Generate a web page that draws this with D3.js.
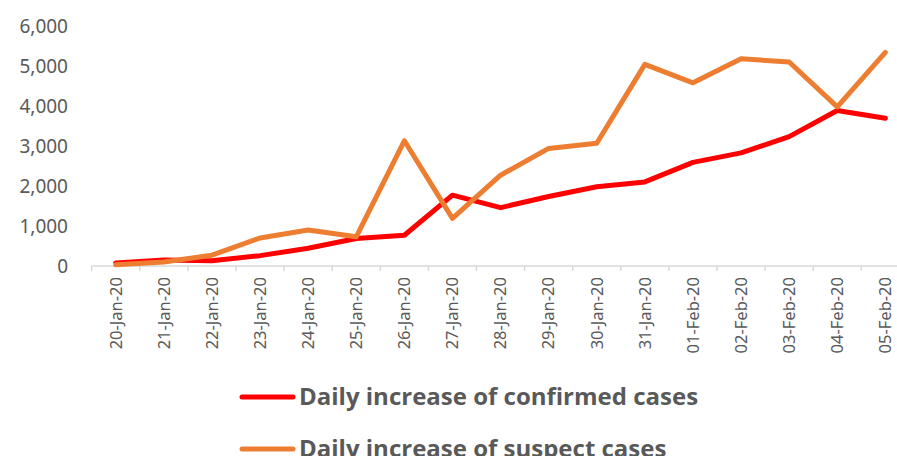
<!DOCTYPE html>
<html>
<head>
<meta charset="utf-8">
<script src="https://cdn.jsdelivr.net/npm/d3@7"></script>
<style>
  html, body { margin: 0; padding: 0; background: #fff; }
  svg { display: block; }
</style>
</head>
<body>
<svg id="chart" width="897" height="456"></svg>
<script>
const dates = ['20-Jan-20', '21-Jan-20', '22-Jan-20', '23-Jan-20', '24-Jan-20', '25-Jan-20',
  '26-Jan-20', '27-Jan-20', '28-Jan-20', '29-Jan-20', '30-Jan-20', '31-Jan-20',
  '01-Feb-20', '02-Feb-20', '03-Feb-20', '04-Feb-20', '05-Feb-20']
const confirmed = [77, 149, 131, 259, 444, 688, 769, 1771, 1459, 1737, 1982, 2102, 2590, 2829, 3235, 3887, 3694]
const suspect = [30, 100, 270, 700, 900, 730, 3130, 1190, 2270, 2940, 3070, 5040, 4580, 5180, 5100, 3980, 5340]
const yTicks = [0, 1000, 2000, 3000, 4000, 5000, 6000]
const seriesNames = ['Daily increase of confirmed cases', 'Daily increase of suspect cases']
const seriesColors = ['#ff0000', '#ed7d31']

const svg = d3.select('#chart')
const textColor = '#595959'

const x = d3.scaleBand()
  .domain(dates)
  .range([91.7, 91.7 + 17 * 48.1])

const y = d3.scaleLinear()
  .domain([0, 6000])
  .range([266, 26])

// y labels (no axis line)
const yAxis = svg.append('g')
  .attr('transform', 'translate(68,0)')
  .call(d3.axisLeft(y).tickValues(yTicks).tickSize(0).tickPadding(0).tickFormat(d3.format(',')))
yAxis.select('.domain').remove()
yAxis.selectAll('text')
  .attr('fill', textColor)
  .style('font-family', 'Noto Sans, sans-serif')
  .style('font-size', '19px')

// x axis
const xAxis = svg.append('g')
  .attr('transform', 'translate(0,266)')
  .call(d3.axisBottom(x).tickSizeOuter(0).tickSize(0))
xAxis.select('.domain').attr('stroke', '#d9d9d9').attr('stroke-width', 1.5)
  .attr('d', 'M' + x.range()[0] + ',0H' + x.range()[1])
xAxis.selectAll('.tick line').remove()
xAxis.selectAll('.tick text')
  .attr('fill', textColor)
  .style('font-family', 'Noto Sans, sans-serif')
  .style('font-size', '16.5px')
  .attr('transform', 'rotate(-90)')
  .attr('x', -11)
  .attr('y', 0)
  .attr('dy', '0.35em')
  .attr('text-anchor', 'end')

// boundary ticks between categories
xAxis.append('g').selectAll('line')
  .data(dates.concat(['end']))
  .join('line')
  .attr('x1', (d, i) => x.range()[0] + i * x.step())
  .attr('x2', (d, i) => x.range()[0] + i * x.step())
  .attr('y1', 0)
  .attr('y2', 5)
  .attr('stroke', '#d9d9d9')
  .attr('stroke-width', 1.5)

const line = d3.line()
  .x((d, i) => x(dates[i]) + x.bandwidth() / 2)
  .y(d => y(d))

const series = [confirmed, suspect]

svg.append('g').selectAll('path')
  .data(series)
  .join('path')
  .attr('d', line)
  .attr('fill', 'none')
  .attr('stroke', (d, i) => seriesColors[i])
  .attr('stroke-width', 5)
  .attr('stroke-linejoin', 'round')
  .attr('stroke-linecap', 'round')

// legend
const legend = svg.append('g').selectAll('g')
  .data(seriesNames)
  .join('g')
  .attr('transform', (d, i) => 'translate(0,' + (397 + i * 52) + ')')

legend.append('line')
  .attr('x1', 242)
  .attr('x2', 293)
  .attr('stroke', (d, i) => seriesColors[i])
  .attr('stroke-width', 5)
  .attr('stroke-linecap', 'round')

legend.append('text')
  .attr('x', 299)
  .attr('dy', '0.35em')
  .attr('fill', textColor)
  .style('font-family', 'Open Sans, sans-serif')
  .style('font-weight', 'bold')
  .style('font-size', '24px')
  .text(d => d)
</script>
</body>
</html>
